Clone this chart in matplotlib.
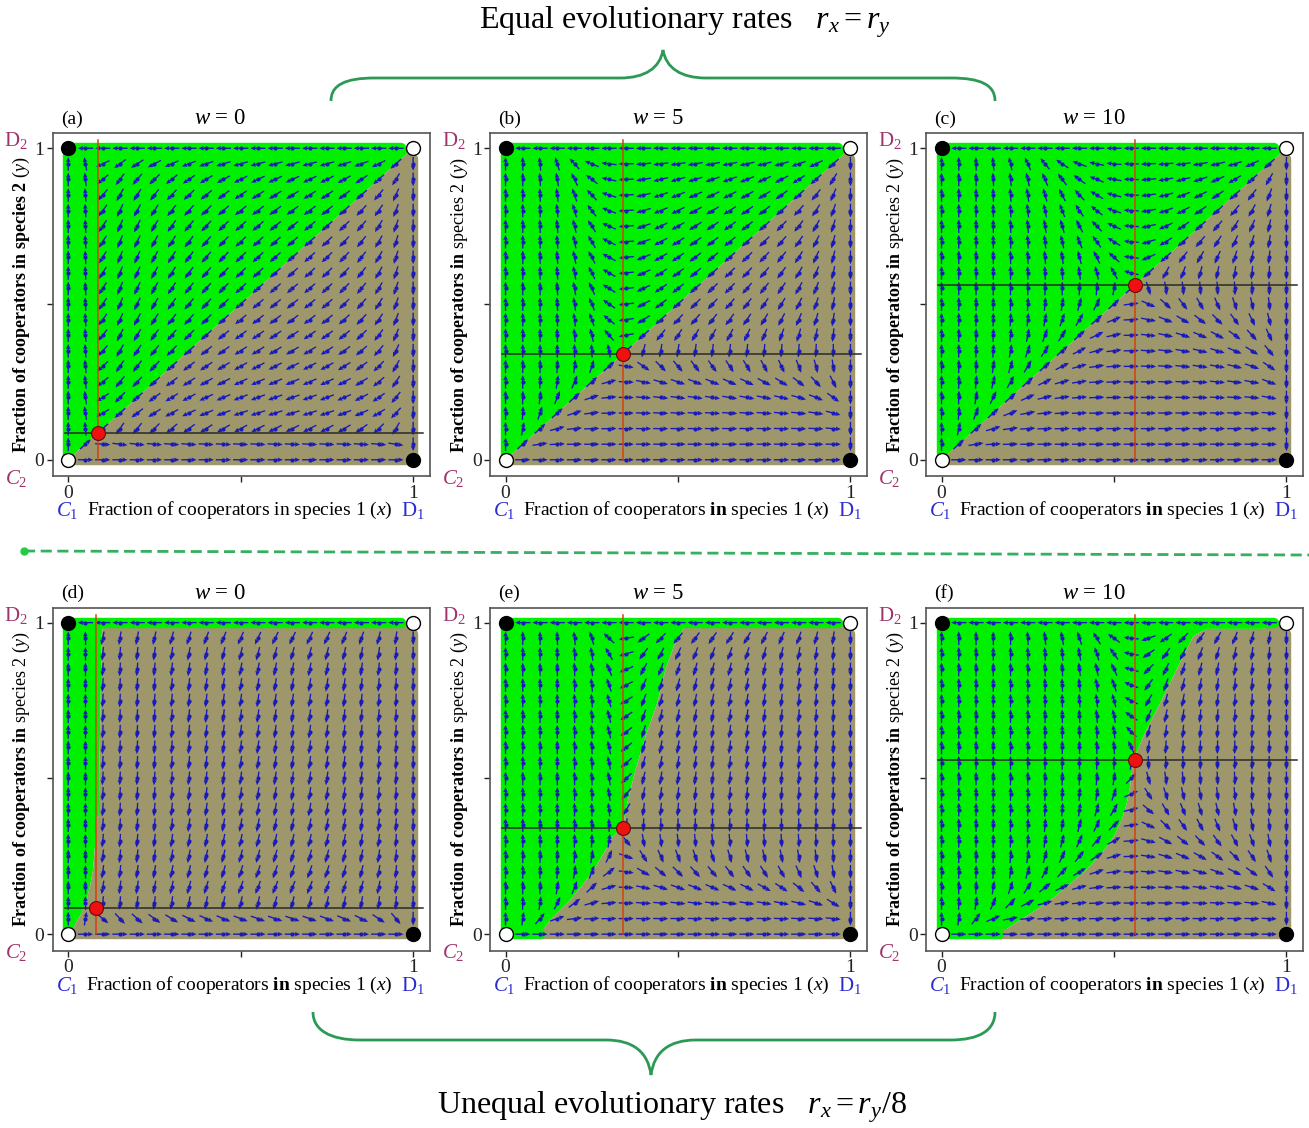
import numpy as np
import matplotlib
matplotlib.use('Agg')
import matplotlib.pyplot as plt
from matplotlib.path import Path
from matplotlib.patches import PathPatch, Polygon
from matplotlib.lines import Line2D

plt.rcParams['font.family'] = ['Liberation Serif', 'DejaVu Serif']
plt.rcParams['mathtext.fontset'] = 'custom'
plt.rcParams['mathtext.rm'] = 'Liberation Serif'
plt.rcParams['mathtext.it'] = 'Liberation Serif:italic'
plt.rcParams['mathtext.bf'] = 'Liberation Serif:bold'

# ---- data ----
panel_tags = ['(a)', '(b)', '(c)', '(d)', '(e)', '(f)']
w_values = [0, 5, 10, 0, 5, 10]
saddle_x = [0.085, 0.34, 0.56, 0.08, 0.34, 0.56]
saddle_y = [0.085, 0.34, 0.56, 0.085, 0.34, 0.56]
rate_y_over_x = [1, 1, 1, 8, 8, 8]      # r_x = r_y in top row, r_x = r_y/8 in bottom row
stable_pts = [(0, 1), (1, 0)]
unstable_pts = [(0, 0), (1, 1)]

# separatrix between the basins of (0,1) [green] and (1,0) [olive]
boundary_a = [(0, 0), (1, 1)]
boundary_b = [(0, 0), (1, 1)]
boundary_c = [(0, 0), (1, 1)]
boundary_d = [(0, 0), (0.01, 0.005), (0.022, 0.035), (0.039, 0.068), (0.051, 0.1),
              (0.063, 0.153), (0.072, 0.207), (0.08, 0.314), (0.082, 0.373),
              (0.089, 0.38), (0.09, 0.528), (0.094, 0.743), (0.097, 0.957),
              (0.101, 0.989), (0.97, 0.99), (1, 1)]
boundary_e = [(0, 0), (0.1, 0.0), (0.13, 0.046), (0.18, 0.1), (0.22, 0.153),
              (0.256, 0.207), (0.285, 0.26), (0.312, 0.314), (0.34, 0.345),
              (0.353, 0.421), (0.377, 0.528), (0.406, 0.635), (0.44, 0.742),
              (0.464, 0.85), (0.488, 0.925), (0.517, 0.984), (0.53, 0.99),
              (0.97, 0.99), (1, 1)]
boundary_f = [(0, 0), (0.166, 0.0), (0.229, 0.046), (0.306, 0.1), (0.364, 0.153),
              (0.42, 0.207), (0.465, 0.26), (0.5, 0.314), (0.523, 0.368),
              (0.537, 0.42), (0.547, 0.475), (0.556, 0.558), (0.585, 0.635),
              (0.634, 0.742), (0.682, 0.85), (0.73, 0.957), (0.77, 0.98),
              (0.93, 0.98), (1, 1)]
boundaries = [boundary_a, boundary_b, boundary_c, boundary_d, boundary_e, boundary_f]

GREEN = '#00f000'
OLIVE = '#9d976b'
ARROW = '#1a1ab8'
BRACE = '#2a9a55'


def field(x, y, xs, ys, ratio):
    # replicator-type flow with a saddle at (xs, ys)
    fx = x * (1 - x) * (ys - y) / (y + 0.03) ** 2
    fy = ratio * y * (1 - y) * (xs - x) / (x + 0.03) ** 2
    return fx, fy


W, H = 1309, 1128
fig = plt.figure(figsize=(W / 100, H / 100), dpi=100)

col_left = [52.7, 490, 926]
row_top = [133.3, 607.7]
ax_w, ax_h = 377, 343
grid = np.linspace(0, 1, 21)

for i in range(6):
    r, c = divmod(i, 3)
    ax = fig.add_axes([col_left[c] / W, 1 - (row_top[r] + ax_h) / H, ax_w / W, ax_h / H])
    ax.set_xlim(-0.045, 1.048)
    ax.set_ylim(-0.053, 1.048)

    bnd = np.array(boundaries[i], dtype=float)
    ax.add_patch(Polygon(np.vstack([bnd, [[0, 1]]]), closed=True, fc=GREEN, ec='none', zorder=1))
    ax.add_patch(Polygon(np.vstack([bnd, [[1, 0]]]), closed=True, fc=OLIVE, ec='none', zorder=1))

    # thick coloured edges (invariant borders of the square)
    b0 = max(p[0] for p in boundaries[i] if p[1] == 0)
    kw = dict(lw=7.5, solid_capstyle='round', zorder=1.5)
    ax.plot([0, 0], [0, 1], color=GREEN, **kw)
    ax.plot([0, 0.965], [1, 1], color=GREEN, **kw)
    ax.plot([1, 1], [0, 0.965], color=OLIVE, **kw)
    ax.plot([b0, 1], [0, 0], color=OLIVE, **kw)
    if b0 > 0:
        ax.plot([0, b0], [0, 0], color=GREEN, **kw)

    # direction field
    gx, gy = np.meshgrid(grid, grid)
    u, v = field(gx, gy, saddle_x[i], saddle_y[i], rate_y_over_x[i])
    L = np.hypot(u, v)
    ok = L > 0
    alen = 0.044
    ax.quiver(gx[ok], gy[ok], u[ok] / L[ok] * alen, v[ok] / L[ok] * alen,
              angles='xy', scale_units='xy', scale=1, pivot='middle', color=ARROW,
              width=0.0036, headwidth=3.4, headlength=3.8, headaxislength=3.4, zorder=2)
    ax.plot(gx[ok], gy[ok], 'o', ms=2.0, color=ARROW, zorder=2)

    # guide lines through the interior saddle
    ax.plot([saddle_x[i]] * 2, [0, 1.025], color='#d4420f', lw=1.1, zorder=3)
    ax.plot([-0.01, 1.03], [saddle_y[i]] * 2, color='#2a2a2a', lw=1.1, zorder=3)

    sx, sy = zip(*stable_pts)
    ux, uy = zip(*unstable_pts)
    ax.plot(sx, sy, 'o', ms=10, mfc='black', mec='black', zorder=4, clip_on=False)
    ax.plot(ux, uy, 'o', ms=10, mfc='white', mec='black', mew=1, zorder=4, clip_on=False)
    ax.plot(saddle_x[i], saddle_y[i], 'o', ms=10, mfc='#f01010', mec='#5a1010', mew=0.8, zorder=5)

    ax.set_xticks([0, 0.5, 1])
    ax.set_xticklabels(['0', '', '1'])
    ax.set_yticks([0, 0.5, 1])
    ax.set_yticklabels(['0', '', '1'])
    ax.tick_params(direction='out', length=4, width=1, labelsize=14, pad=2, colors='#222222')
    for s in ax.spines.values():
        s.set_color('#555555')
        s.set_linewidth(1.2)

    ax.text(0.022, 1.042, panel_tags[i], transform=ax.transAxes, fontsize=14,
            ha='left', va='center')
    ax.text(0.445, 1.042, r'$w$ = %d' % w_values[i], transform=ax.transAxes,
            fontsize=16.5, ha='center', va='center')

    word_in = 'in' if i == 0 else r'$\mathbf{in}$'
    ax.text(0.495, -0.1, 'Fraction of cooperators ' + word_in + r' species 1 $(x)$',
            transform=ax.transAxes, fontsize=14, ha='center', va='center')
    ax.text(0.038, -0.1, r'$C_1$', transform=ax.transAxes, fontsize=15,
            color='#2b2bd0', ha='center', va='center')
    ax.text(0.955, -0.1, r'$\mathrm{D}_1$', transform=ax.transAxes, fontsize=15,
            color='#2b2bd0', ha='center', va='center')

    if i == 0:
        ylab = r'$\mathbf{Fraction\ of\ cooperators\ in\ species\ 2}$ $(y)$'
    else:
        ylab = r'$\mathbf{Fraction\ of\ cooperators\ in}$ species 2 $(y)$'
    ax.text(-0.082, 0.5, ylab, transform=ax.transAxes, fontsize=13, rotation=90,
            ha='center', va='center')
    ax.text(-0.097, 0.978, r'$\mathrm{D}_2$', transform=ax.transAxes, fontsize=15,
            color='#a0336b', ha='center', va='center')
    ax.text(-0.097, -0.005, r'$C_2$', transform=ax.transAxes, fontsize=15,
            color='#a0336b', ha='center', va='center')


def px(x, y):
    return (x / W, 1 - y / H)


def brace(pts):
    verts = [px(*p) for p in pts]
    codes = [Path.MOVETO, Path.CURVE4, Path.CURVE4, Path.CURVE4, Path.LINETO,
             Path.CURVE4, Path.CURVE4, Path.CURVE4, Path.CURVE4, Path.CURVE4, Path.CURVE4,
             Path.LINETO, Path.CURVE4, Path.CURVE4, Path.CURVE4]
    fig.patches.append(PathPatch(Path(verts, codes), fc='none', ec=BRACE, lw=2,
                                 transform=fig.transFigure, figure=fig))


brace([(331, 101), (331, 85), (345, 78), (375, 78), (620, 78),
       (645, 78), (660, 68), (663, 50), (666, 68), (681, 78), (706, 78),
       (951, 78), (981, 78), (995, 85), (995, 101)])
brace([(313, 1012), (313, 1030), (330, 1040), (360, 1040), (606, 1040),
       (633, 1040), (648, 1052), (651, 1075), (654, 1052), (669, 1040), (696, 1040),
       (950, 1040), (980, 1040), (995, 1030), (995, 1012)])

fig.text(*px(685, 22), r'Equal evolutionary rates   $r_x = r_y$', fontsize=23,
         ha='center', va='center')
fig.text(*px(672, 1107), r'Unequal evolutionary rates   $r_x = r_y/8$', fontsize=23,
         ha='center', va='center')

# dashed separator between the two rows
x0, y0 = px(24, 551)
x1, y1 = px(1309, 555)
fig.add_artist(Line2D([x0, x1], [y0, y1], transform=fig.transFigure, color='#35b060',
                      lw=2, dashes=(4, 2)))
fig.add_artist(Line2D([x0], [y0], transform=fig.transFigure, marker='o', ms=5,
                      color='#22cc44', lw=0))

fig.savefig('out.png', dpi=100)
